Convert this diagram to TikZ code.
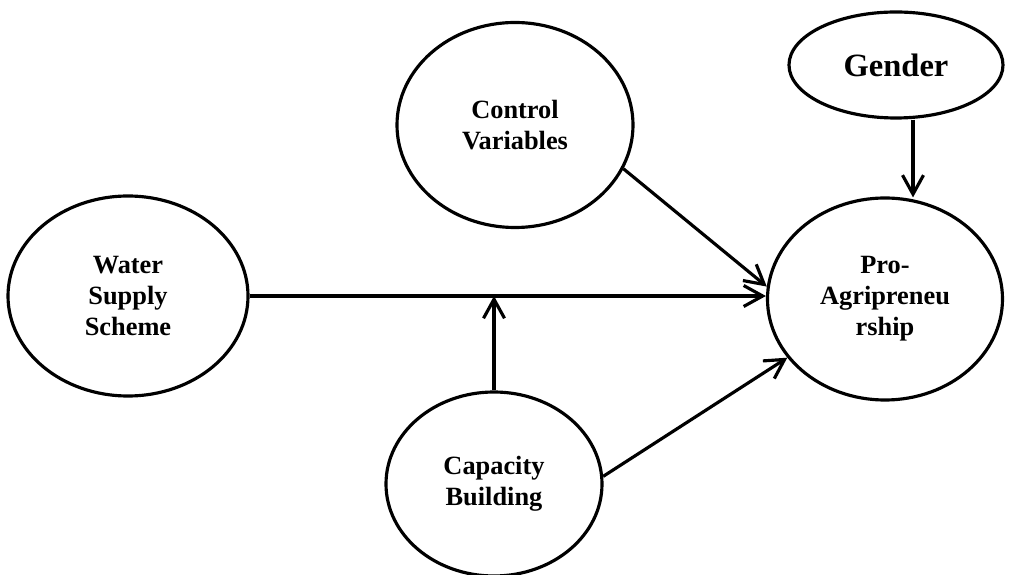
\documentclass[tikz,border=0pt]{standalone}
\usepackage{fontspec}
\setmainfont{Liberation Serif}
\usepackage{tikz}
\usetikzlibrary{arrows.meta, positioning, shapes.geometric, calc}

\begin{document}
\begin{tikzpicture}[
  construct/.style={ellipse, draw=black, line width=1.8pt, inner sep=0pt, align=center,
    font=\fontsize{15}{17.6}\selectfont\bfseries},
  path/.style={line width=1.8pt, -{Straight Barb[length=3.8mm, width=4.2mm, line width=1.8pt]}}
]
\useasboundingbox (0,0) rectangle (20.46,-11.5);

%% Constructs
\node[construct, minimum width=4.8cm, minimum height=4.0cm] (water) at (2.56, -5.92) {Water\\Supply\\Scheme};
\node[construct, minimum width=4.72cm, minimum height=4.1cm] (control) at (10.3, -2.5) {Control\\Variables};
\node[construct, minimum width=4.28cm, minimum height=2.12cm, font=\fontsize{18.5}{22}\selectfont\bfseries] (gender) at (17.92, -1.3) {Gender};
\node[construct, minimum width=4.7cm, minimum height=4.04cm] (pro) at (17.7, -5.98) {Pro-\\Agripreneu\\rship};
\node[construct, minimum width=4.32cm, minimum height=3.68cm] (capacity) at (9.88, -9.68) {Capacity\\Building};

%% Paths
\draw[path] (water.east) -- (water.east -| pro.west);
\coordinate (mod) at (capacity.north |- water.east);
\draw[path] (capacity.north) -- (mod);
\draw[path] (control.-22) -- (pro.174);
\draw[path] (capacity.4) -- (pro.211);
\coordinate (gtop) at ($(gender.south)+(0.34,0)$);
\draw[path] (gtop) -- ($(gtop |- pro.north)+(0,-0.02)$);
\end{tikzpicture}
\end{document}
